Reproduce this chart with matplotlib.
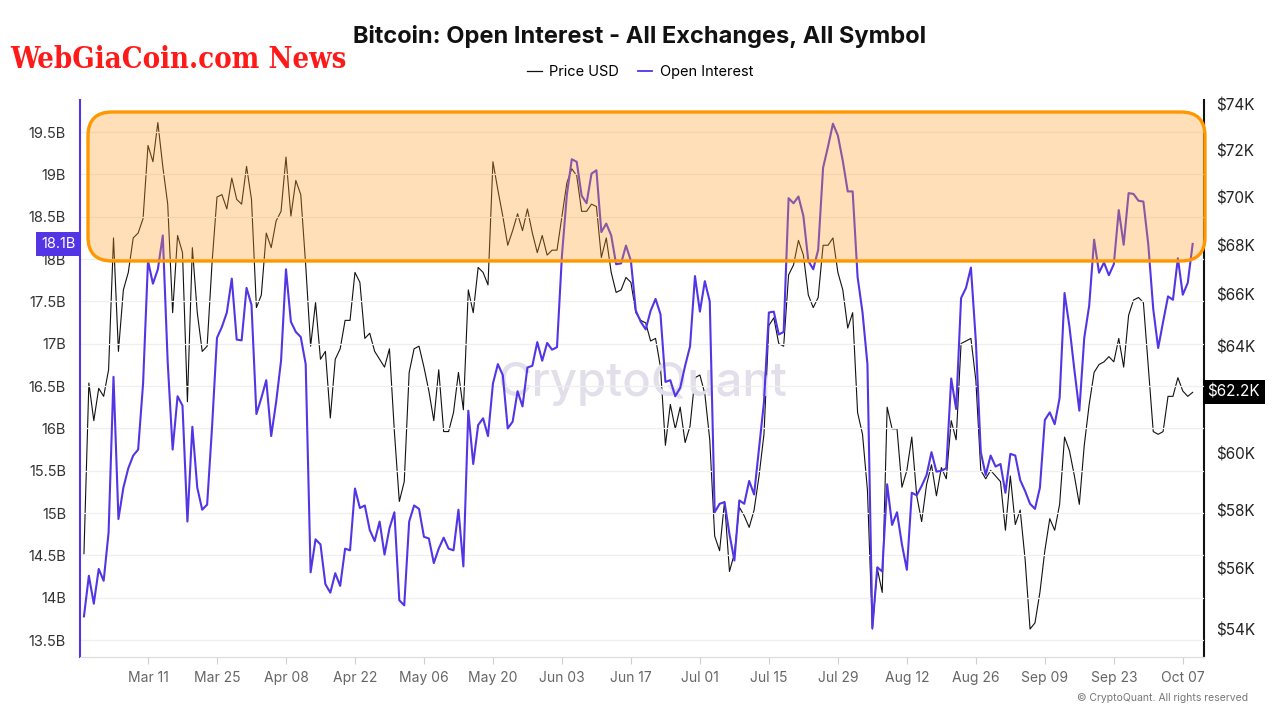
#!/usr/bin/env python3
import numpy as np
import pandas as pd
import matplotlib
matplotlib.use("Agg")
import matplotlib.pyplot as plt
import matplotlib.dates as mdates
from matplotlib.patches import FancyBboxPatch
from matplotlib.transforms import IdentityTransform
from matplotlib.ticker import FixedLocator, NullLocator

plt.rcParams['font.family'] = ['Inter', 'DejaVu Sans']

START_DATE = "2024-02-27"

# BTC price, thousands USD (daily)
price_usd_k = [
    56.5, 62.6, 61.2, 62.4, 62.1, 63.1, 68.3, 63.8, 66.2, 66.9, 68.3, 68.5, 69.1, 72.2, 71.5, 73.2, 71.3,
    69.7, 65.3, 68.4, 67.7, 61.9, 67.9, 65.3, 63.8, 64.0, 67.3, 70.0, 70.1, 69.5, 70.8, 69.9, 69.7,
    71.3, 69.9, 65.5, 66.0, 68.5, 67.9, 69.0, 69.4, 71.7, 69.2, 70.7, 70.1, 67.2, 64.0, 65.7, 63.5, 63.8,
    61.3, 63.5, 63.9, 65.0, 65.0, 66.9, 66.5, 64.3, 64.5, 63.8, 63.5, 63.2, 63.9, 60.8, 58.3, 59.0,
    63.0, 63.9, 64.0, 63.2, 62.3, 61.2, 63.1, 60.8, 60.8, 61.5, 63.0, 61.6, 66.2, 65.3, 67.1, 66.9,
    66.4, 71.5, 70.3, 69.2, 68.0, 68.6, 69.3, 68.6, 69.5, 68.5, 67.7, 68.4, 67.6, 67.8, 67.8, 69.2,
    70.6, 71.2, 70.9, 69.4, 69.4, 69.7, 69.6, 67.5, 68.3, 66.9, 66.1, 66.2, 66.7, 66.5, 65.3, 65.0,
    64.9, 64.2, 64.3, 63.2, 60.3, 61.8, 60.9, 61.7, 60.4, 61.0, 62.8, 62.9, 62.2, 60.5, 57.1, 56.6,
    58.3, 55.9, 56.5, 58.1, 57.8, 57.4, 58.0, 59.2, 60.7, 64.8, 65.1, 64.1, 64.0, 66.8, 67.2, 68.2, 67.6,
    66.0, 65.5, 65.9, 68.0, 68.0, 68.3, 66.9, 66.2, 64.7, 65.3, 61.5, 60.7, 58.7, 54.0, 56.0, 55.2,
    61.7, 60.9, 60.9, 58.8, 59.4, 60.6, 58.5, 57.6, 58.9, 59.6, 58.5, 59.5, 59.1, 61.2, 60.5, 64.1, 64.2,
    64.3, 62.7, 59.4, 59.1, 59.4, 59.2, 59.0, 57.3, 59.2, 57.5, 58.0, 56.3, 54.0, 54.2, 55.2, 56.6,
    57.7, 57.3, 58.2, 60.6, 60.1, 59.2, 58.2, 60.3, 61.8, 63.0, 63.3, 63.4, 63.6, 63.4, 64.3,
    63.2, 65.2, 65.8, 65.9, 65.7, 63.2, 60.8, 60.7, 60.8, 62.1, 62.1, 62.8, 62.3, 62.1, 62.25,
]

# Open interest, billions USD (daily)
open_interest_b = [
    13.78, 14.26, 13.93, 14.34, 14.20, 14.77, 16.61, 14.93, 15.30, 15.53, 15.68, 15.75, 16.53, 17.98, 17.71, 17.88, 18.28,
    16.78, 15.75, 16.38, 16.27, 14.90, 16.02, 15.30, 15.04, 15.10, 16.02, 17.07, 17.20, 17.37, 17.77, 17.05, 17.04,
    17.66, 17.46, 16.17, 16.36, 16.57, 15.91, 16.31, 16.80, 17.88, 17.26, 17.14, 17.08, 16.76, 14.30, 14.69, 14.63, 14.16,
    14.06, 14.29, 14.14, 14.58, 14.56, 15.29, 15.06, 15.09, 14.80, 14.67, 14.90, 14.51, 14.82, 15.01, 13.97, 13.91,
    14.90, 15.09, 15.05, 14.72, 14.70, 14.41, 14.58, 14.71, 14.58, 14.56, 15.04, 14.37, 16.21, 15.58, 16.04, 16.12,
    15.91, 16.53, 16.76, 16.63, 16.00, 16.08, 16.44, 16.26, 16.72, 16.74, 17.02, 16.80, 17.01, 16.93, 16.96, 18.04,
    18.76, 19.18, 19.15, 18.75, 18.66, 19.01, 19.05, 18.32, 18.42, 18.28, 17.94, 17.95, 18.16, 17.98, 17.39, 17.26,
    17.17, 17.39, 17.53, 17.35, 16.55, 16.57, 16.38, 16.48, 16.74, 16.97, 17.80, 17.38, 17.74, 17.50, 15.01, 15.11,
    15.13, 14.75, 14.44, 15.15, 15.11, 15.38, 15.22, 15.77, 16.31, 17.37, 17.38, 17.11, 17.14, 18.72, 18.66, 18.74, 18.51,
    17.98, 17.88, 18.11, 19.08, 19.33, 19.60, 19.46, 19.16, 18.80, 18.80, 17.79, 17.37, 16.76, 13.64, 14.36, 14.31,
    15.34, 14.86, 15.01, 14.63, 14.33, 15.24, 15.21, 15.32, 15.45, 15.72, 15.49, 15.50, 15.53, 16.59, 16.23, 17.54, 17.66,
    17.90, 17.03, 15.72, 15.45, 15.68, 15.55, 15.58, 15.24, 15.70, 15.68, 15.39, 15.26, 15.11, 15.05, 15.30, 16.10,
    16.19, 16.05, 16.36, 17.60, 17.20, 16.69, 16.21, 17.07, 17.45, 18.23, 17.84, 17.96, 17.81, 17.94, 18.58,
    18.17, 18.78, 18.77, 18.69, 18.68, 18.17, 17.41, 16.95, 17.26, 17.56, 17.52, 18.01, 17.58, 17.72, 18.18,
]

oi_ticks = [13.5, 14, 14.5, 15, 15.5, 16, 16.5, 17, 17.5, 18, 18.5, 19, 19.5]
price_ticks = [54, 56, 58, 60, 62, 64, 66, 68, 70, 72, 74]
date_ticks = ["2024-03-11", "2024-03-25", "2024-04-08", "2024-04-22", "2024-05-06", "2024-05-20",
              "2024-06-03", "2024-06-17", "2024-07-01", "2024-07-15", "2024-07-29", "2024-08-12",
              "2024-08-26", "2024-09-09", "2024-09-23", "2024-10-07"]

dates = pd.date_range(START_DATE, periods=len(price_usd_k), freq="D")

BLUE = "#5335E6"
fig = plt.figure(figsize=(12.8, 7.2), dpi=100)
ax = fig.add_axes([80 / 1280, 1 - 657 / 720, 1124 / 1280, 557 / 720])
ax2 = ax.twinx()
ax.set_zorder(ax2.get_zorder() + 1)
ax.patch.set_visible(False)

ax.plot(dates, open_interest_b, color=BLUE, lw=1.5, zorder=3)
ax2.plot(dates, price_usd_k, color="#111111", lw=0.8, zorder=2)

# left axis: open interest
ax.set_ylim(13.30, 19.88)
ax.yaxis.set_major_locator(FixedLocator(oi_ticks))
ax.set_yticklabels([f"{v:g}B" for v in oi_ticks])
ax.yaxis.grid(True, color="#efefef", lw=0.9)
ax.set_axisbelow(True)
ax.tick_params(axis="y", length=0, pad=10, labelsize=10.5, labelcolor="#333333")

# right axis: price (log); the $62K label sits under the last-value box
ax2.set_yscale("log")
ax2.set_ylim(53.1, 74.2)
ax2.yaxis.set_major_locator(FixedLocator(price_ticks))
ax2.yaxis.set_minor_locator(NullLocator())
ax2.set_yticklabels(["" if v == 62 else f"${v}K" for v in price_ticks])
ax2.tick_params(axis="y", length=0, pad=9, labelsize=11, labelcolor="#222222")

# x axis
ax.set_xlim(pd.Timestamp("2024-03-11") - pd.Timedelta(days=13.8),
            pd.Timestamp("2024-10-07") + pd.Timedelta(days=4.3))
ax.xaxis.set_major_locator(FixedLocator(mdates.date2num(pd.to_datetime(date_ticks))))
ax.xaxis.set_major_formatter(mdates.DateFormatter("%b %d"))
ax.tick_params(axis="x", length=5, color="#d0d0d0", pad=5, labelsize=10, labelcolor="#666666")

for a in (ax, ax2):
    a.spines["top"].set_visible(False)
    a.spines["bottom"].set_color("#dddddd")
ax.spines["left"].set_color(BLUE)
ax.spines["left"].set_linewidth(1.5)
ax.spines["right"].set_visible(False)
ax2.spines["left"].set_visible(False)
ax2.spines["right"].set_color("#111111")
ax2.spines["right"].set_linewidth(1.5)

# last value markers
ax.text(-0.004, open_interest_b[-1], "18.1B", transform=ax.get_yaxis_transform(), ha="right", va="center",
        color="white", fontsize=10.5, clip_on=False, zorder=10,
        bbox=dict(boxstyle="square,pad=0.35", fc=BLUE, ec="none"))
ax2.text(1.003, price_usd_k[-1], "$62.2K", transform=ax2.get_yaxis_transform(), ha="left", va="center",
         color="white", fontsize=11, clip_on=False, zorder=10,
         bbox=dict(boxstyle="square,pad=0.3", fc="black", ec="none"))

# watermark
ax.text(0.5, 0.49, "CryptoQuant", transform=ax.transAxes, ha="center", va="center",
        fontsize=34, color="#e2dfea", weight="medium", zorder=0)

# highlight box
box = FancyBboxPatch((88, 459), 1117, 149, boxstyle="round,pad=0,rounding_size=24",
                     transform=IdentityTransform(), fc=(1.0, 0.62, 0.12, 0.32),
                     ec="#FF9800", lw=2.4, zorder=5)
fig.add_artist(box)

fig.text(0.5, 1 - 37 / 720, "Bitcoin: Open Interest - All Exchanges, All Symbol",
         ha="center", va="center", fontsize=17, weight="bold", color="#111111")
handles = [plt.Line2D([], [], color="#111111", lw=0.9), plt.Line2D([], [], color=BLUE, lw=1.3)]
fig.legend(handles, ["Price USD", "Open Interest"], loc="center", bbox_to_anchor=(0.5, 1 - 72 / 720),
           ncol=2, frameon=False, fontsize=10.5, handlelength=1.0, handletextpad=0.5, columnspacing=1.3)
fig.text(10 / 1280, 1 - 60 / 720, "WebGiaCoin.com News", ha="left", va="center",
         fontsize=21, weight="bold", color="#FF1A1A", family=["DejaVu Serif"], fontstretch="condensed")
fig.text(1248 / 1280, 1 - 698 / 720, "© CryptoQuant. All rights reserved", ha="right", va="center",
         fontsize=7.5, color="#777777")

fig.savefig("out.png", dpi=100)
print("Saved: out.png")
